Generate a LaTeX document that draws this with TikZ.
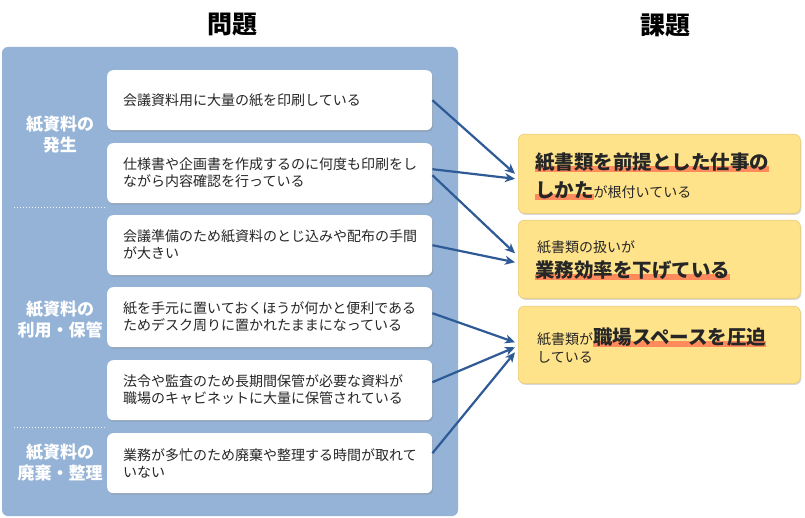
\documentclass[tikz,border=0pt]{standalone}
\usepackage{fontspec}
\setmainfont{Noto Sans CJK JP}
\usetikzlibrary{arrows.meta,calc,shadows}
\definecolor{panel}{HTML}{95B3D7}
\definecolor{arrowc}{HTML}{2E5A96}
\definecolor{ybox}{HTML}{FFE38A}
\definecolor{yedge}{HTML}{EBCB6E}
\definecolor{hlc}{HTML}{FF8B5C}
\definecolor{txt}{HTML}{262626}
\newcommand\hlt[1]{\setbox0\hbox{#1}\rlap{\color{hlc}\rule[-2.5pt]{\wd0}{6pt}}\box0}
\newcommand\bigb{\fontsize{19.5}{23}\selectfont\bfseries}
\newcommand\smallt{\fontsize{14}{17}\selectfont}
\begin{document}
\begin{tikzpicture}[x=1pt,y=-1pt,
  wbox/.style={fill=white, rounded corners=6pt,
    drop shadow={shadow xshift=1pt,shadow yshift=-1.5pt,opacity=0.35},
    minimum width=325pt, minimum height=60pt, anchor=north west, inner sep=0pt},
  ybx/.style={fill=ybox, draw=yedge, line width=0.6pt, rounded corners=6pt,
    drop shadow={shadow xshift=1pt,shadow yshift=-1.5pt,opacity=0.3},
    minimum width=282pt, anchor=north west, inner sep=0pt},
  wtext/.style={anchor=west, align=left, inner sep=0pt, text=txt,
    font=\fontsize{14}{17}\selectfont},
  ytext/.style={anchor=base west, inner sep=0pt, text=txt, font=\smallt},
  glabel/.style={align=center, inner sep=0pt, text=white,
    font=\fontsize{17}{21}\selectfont\bfseries},
  ttl/.style={inner sep=0pt, text=black, font=\fontsize{25}{28}\selectfont\bfseries},
  arr/.style={draw=arrowc, line width=2.2pt,
    -{Stealth[length=10pt,width=9pt,inset=3pt]}},
  sep/.style={draw=white, dotted, line width=1pt, opacity=0.85}
]
\useasboundingbox (0,0) rectangle (805,518);
\fill[white] (0,0) rectangle (805,518);

% titles
\node[ttl] (t1) at (232,25) {問題};
\node[ttl] (t2) at (665,25) {課題};

% panel
\fill[panel, rounded corners=6pt] (2,47) rectangle (458,516);

% group labels
\node[glabel] (g1) at (60,135) {紙資料の\\発生};
\node[glabel] (g2) at (60,320) {紙資料の\\利用・保管};
\node[glabel] (g3) at (60,463) {紙資料の\\廃棄・整理};
\draw[sep] (14,208) -- (107,208);
\draw[sep] (14,427) -- (107,427);

% white boxes
\node[wbox] (p1) at (107,70) {};
\node[wbox] (p2) at (107,143) {};
\node[wbox] (p3) at (107,215) {};
\node[wbox] (p4) at (107,287) {};
\node[wbox] (p5) at (107,360) {};
\node[wbox] (p6) at (107,433) {};
\node[wtext] (p1t) at (123,100) {会議資料用に大量の紙を印刷している};
\node[wtext] (p2t) at (123,173) {仕様書や企画書を作成するのに何度も印刷をし\\ながら内容確認を行っている};
\node[wtext] (p3t) at (123,245) {会議準備のため紙資料のとじ込みや配布の手間\\が大きい};
\node[wtext] (p4t) at (123,317) {紙を手元に置いておくほうが何かと便利である\\ためデスク周りに置かれたままになっている};
\node[wtext] (p5t) at (123,390) {法令や監査のため長期間保管が必要な資料が\\職場のキャビネットに大量に保管されている};
\node[wtext] (p6t) at (123,463) {業務が多忙のため廃棄や整理する時間が取れて\\いない};

% yellow boxes
\node[ybx, minimum height=79pt] (c1) at (518,134) {};
\node[ybx, minimum height=78pt] (c2) at (518,220) {};
\node[ybx, minimum height=77pt] (c3) at (518,306) {};

\node[ytext] (c1a) at (535,169.5) {\bigb\hlt{紙書類を前提とした仕事の}};
\node[ytext] (c1b) at (535,197.5) {{\bigb\hlt{しかた}}{\smallt が根付いている}};
\node[ytext] (c2a) at (537,252.3) {紙書類の扱いが};
\node[ytext] (c2b) at (535,277.5) {\bigb\hlt{業務効率を下げている}};
\node[ytext] (c3a) at (537,344.5) {{\smallt 紙書類が}{\bigb\hlt{職場スペースを圧迫}}};
\node[ytext] (c3b) at (537,362) {している};

% arrows
\draw[arr] (p1.east) -- ($(c1.west)+(-3,0)$);
\draw[arr] ($(p2.east)+(0,-4)$) -- ($(c1.west)+(-3,5)$);
\draw[arr] ($(p2.east)+(0,2)$) -- ($(c2.west)+(-3,-6)$);
\draw[arr] (p3.east) -- ($(c2.west)+(-3,3)$);
\draw[arr] ($(p4.east)+(0,-4)$) -- ($(c3.west)+(-3,-2.5)$);
\draw[arr] ($(p5.east)+(0,-8)$) -- ($(c3.west)+(-3,2.5)$);
\draw[arr] ($(p6.east)+(0,-10)$) -- ($(c3.west)+(-3,7.5)$);
\end{tikzpicture}
\end{document}
